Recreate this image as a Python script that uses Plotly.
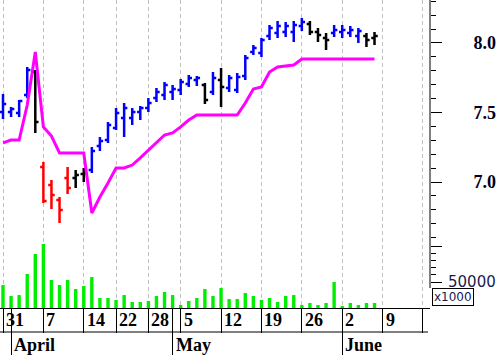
import plotly.graph_objects as go

# ---- data (bar index = trading day, 0 = Mar 31) ----
opens  = [7.504, 7.504, 7.497, 7.626, 7.791, 7.108, 6.978, 6.871, 7.029, 7.029,
          7.058, 7.086, 7.259, 7.302, 7.389, 7.461, 7.461, 7.504, 7.532, 7.604,
          7.626, 7.648, 7.662, 7.705, 7.734, 7.698, 7.648, 7.734, 7.676, 7.662,
          7.763, 7.935, 7.928, 8.050, 8.072, 8.079, 8.079, 8.122, 8.137, 8.079,
          8.036, 8.072, 8.079, 8.072, 8.050, 8.050, 8.036]
highs  = [7.633, 7.540, 7.590, 7.827, 7.806, 7.144, 7.014, 6.892, 7.108, 7.086,
          7.101, 7.252, 7.324, 7.432, 7.532, 7.568, 7.532, 7.547, 7.604, 7.676,
          7.719, 7.698, 7.741, 7.770, 7.763, 7.712, 7.791, 7.820, 7.770, 7.784,
          7.914, 7.986, 8.036, 8.130, 8.158, 8.151, 8.158, 8.180, 8.158, 8.108,
          8.072, 8.130, 8.130, 8.122, 8.108, 8.072, 8.079]
lows   = [7.453, 7.468, 7.468, 7.604, 7.353, 6.849, 6.806, 6.705, 6.914, 6.957,
          7.000, 7.065, 7.223, 7.281, 7.374, 7.324, 7.410, 7.446, 7.504, 7.576,
          7.590, 7.590, 7.626, 7.684, 7.691, 7.561, 7.626, 7.540, 7.648, 7.640,
          7.734, 7.914, 7.899, 8.022, 8.036, 8.043, 8.007, 8.086, 8.058, 8.007,
          7.950, 8.043, 8.036, 8.043, 8.000, 7.971, 7.986]
closes = [7.561, 7.525, 7.583, 7.806, 7.432, 6.863, 6.907, 6.799, 6.957, 7.050,
          7.072, 7.223, 7.295, 7.410, 7.497, 7.532, 7.504, 7.532, 7.568, 7.648,
          7.698, 7.669, 7.719, 7.748, 7.748, 7.590, 7.748, 7.684, 7.748, 7.755,
          7.892, 7.964, 8.022, 8.108, 8.122, 8.122, 8.130, 8.151, 8.079, 8.058,
          8.022, 8.094, 8.094, 8.094, 8.086, 8.022, 8.050]
bar_colors = (["blue"] * 4 + ["black"] + ["red"] * 4 + ["black"] * 2 + ["blue"] * 14 +
              ["black", "blue", "black"] + ["blue"] * 10 + ["black"] * 3 + ["blue"] * 4 +
              ["black"] * 2)
stop_line = [7.281, 7.302, 7.302, 7.554, 7.935, 7.396, 7.331, 7.209, 7.209, 7.209,
             7.209, 6.777, 6.892, 6.993, 7.101, 7.101, 7.122, 7.173, 7.230, 7.288,
             7.338, 7.353, 7.396, 7.446, 7.482, 7.482, 7.482, 7.482, 7.482, 7.482,
             7.568, 7.669, 7.683, 7.791, 7.827, 7.835, 7.842, 7.885, 7.885, 7.885,
             7.885, 7.885, 7.885, 7.885, 7.885, 7.885, 7.885]
volume = [45800, 30600, 31900, 61100, 88900, 102800, 52800, 45800, 52800, 40300,
          44400, 56900, 27800, 27800, 25000, 31900, 22200, 22200, 23600, 30600,
          36100, 31900, 18100, 23600, 27800, 40300, 30600, 41700, 26400, 26400,
          34700, 30600, 25000, 27800, 22200, 30600, 31900, 18100, 20800, 18100,
          20800, 50000, 16700, 20800, 18100, 20800, 20800]

week_ticks  = [0, 5, 10, 14, 18, 22, 27, 32, 37, 42, 47, 52]
week_labels = ["31", "7", "14", "22", "28", "5", "12", "19", "26", "2", "9", ""]
month_ticks  = [1, 21, 42]
month_labels = ["April", "May", "June"]
price_ticks  = [7.0, 7.5, 8.0]
price_labels = ["7.0", "7.5", "8.0"]
price_minor  = [6.6, 6.7, 6.8, 6.9, 7.1, 7.2, 7.3, 7.4, 7.6, 7.7, 7.8, 7.9, 8.1, 8.2, 8.3]
vol_ticks  = [50000, 100000]
vol_labels = ["50000", ""]
vol_minor  = [60000, 70000, 80000, 90000]

n = len(closes)
idx = list(range(n))

fig = go.Figure()

fig.add_trace(go.Bar(x=idx, y=volume, yaxis="y2", marker=dict(color="#00ee00", line_width=0),
                     width=0.42, showlegend=False, hoverinfo="skip"))

fig.add_trace(go.Scatter(x=idx, y=stop_line, mode="lines",
                         line=dict(color="#ff00ff", width=3), showlegend=False))

for col in ["blue", "black", "red"]:
    sel = [i for i in idx if bar_colors[i] == col]
    c = {"blue": "#0000ff", "black": "#000000", "red": "#ff0000"}[col]
    fig.add_trace(go.Ohlc(
        x=sel,
        open=[opens[i] for i in sel], high=[highs[i] for i in sel],
        low=[lows[i] for i in sel], close=[closes[i] for i in sel],
        increasing=dict(line=dict(color=c, width=2.5)),
        decreasing=dict(line=dict(color=c, width=2.5)),
        tickwidth=0.4, showlegend=False))

serif = "Liberation Serif"
fig.update_layout(
    width=500, height=355,
    margin=dict(l=0, r=70, t=0, b=47),
    paper_bgcolor="white", plot_bgcolor="white",
    showlegend=False,
    xaxis=dict(range=[-0.371, 52.87], showticklabels=False,
               tickmode="array", tickvals=week_ticks,
               ticks="outside", ticklen=24, tickcolor="black", tickwidth=1,
               showgrid=True, gridcolor="#c0c0c0", griddash="4px,3px", gridwidth=1,
               showline=True, linecolor="black", linewidth=1,
               zeroline=False, rangeslider=dict(visible=False),
               minor=dict(tickmode="array", tickvals=month_ticks, ticks="outside",
                          ticklen=47, tickcolor="black", tickwidth=1, showgrid=False)),
    yaxis=dict(range=[6.094, 8.309], side="right", showgrid=False, zeroline=False,
               showline=False,
               tickmode="array", tickvals=price_ticks, ticktext=price_labels,
               ticks="outside", ticklen=11, tickcolor="black", tickwidth=1,
               ticklabelstandoff=28,
               tickfont=dict(family=serif, size=18, color="#000020", weight="bold"),
               minor=dict(tickmode="array", tickvals=price_minor, ticks="outside",
                          ticklen=5, tickcolor="black", tickwidth=1, showgrid=False)),
    yaxis2=dict(range=[13889, 441667], overlaying="y", side="right", anchor="x",
                showgrid=False, zeroline=False, showline=False,
                tickmode="array", tickvals=vol_ticks, ticktext=vol_labels,
                ticks="outside", ticklen=11, tickcolor="black", tickwidth=1,
                ticklabelstandoff=3,
                tickfont=dict(family="DejaVu Sans", size=15, color="#1a1a50"),
                minor=dict(tickmode="array", tickvals=vol_minor, ticks="outside",
                           ticklen=5, tickcolor="black", tickwidth=1, showgrid=False)),
)

# price axis line and date-box lines
fig.add_shape(type="line", xref="paper", yref="paper", x0=1, x1=1, y0=20/308, y1=1,
              line=dict(color="black", width=1))
fig.add_shape(type="line", xref="paper", yref="paper", x0=0, x1=428/430,
              y0=-24/308, y1=-24/308, line=dict(color="black", width=1))

for t, lab in zip(week_ticks, week_labels):
    if lab:
        fig.add_annotation(x=t, y=-12/308, xref="x", yref="paper", text="<b>%s</b>" % lab,
                           showarrow=False, xanchor="left", yanchor="middle", xshift=1,
                           font=dict(family=serif, size=18, color="black"))
for t, lab in zip(month_ticks, month_labels):
    fig.add_annotation(x=t, y=-37/308, xref="x", yref="paper", text="<b>%s</b>" % lab,
                       showarrow=False, xanchor="left", yanchor="middle", xshift=1,
                       font=dict(family=serif, size=18, color="black"))

fig.add_annotation(x=432/430, y=11/308, xref="paper", yref="paper", text="x1000",
                   showarrow=False, xanchor="left", yanchor="middle",
                   bordercolor="black", borderwidth=1, borderpad=1,
                   font=dict(family="DejaVu Sans", size=12, color="#1a1a50"))

fig.write_html("out.html")
